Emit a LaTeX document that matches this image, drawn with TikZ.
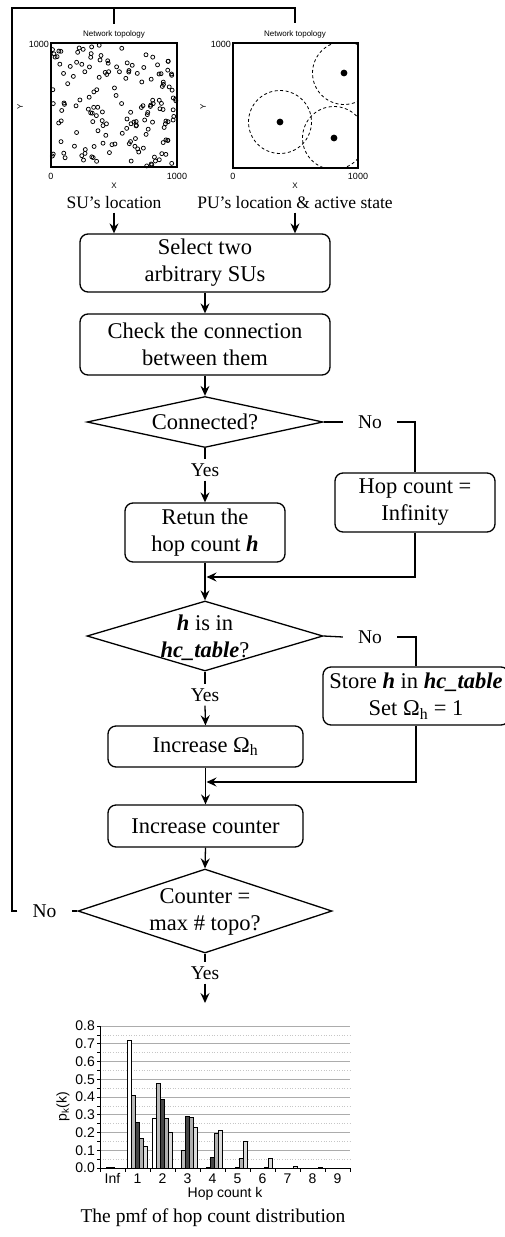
\documentclass[tikz,border=0pt]{standalone}
\usepackage{fontspec}
\setmainfont{Liberation Serif}
\setsansfont{Liberation Sans}
\usetikzlibrary{shapes.geometric,arrows.meta}
\newcommand\BoxFnt{\fontsize{22.5}{27}\selectfont}
\newcommand\YnFnt{\fontsize{19.5}{23}\selectfont}
\newcommand\LocFnt{\fontsize{17.5}{21}\selectfont}
\newcommand\CapFnt{\fontsize{19.5}{23}\selectfont}
\newcommand\TinyFnt{\sffamily\fontsize{8}{9.6}\selectfont}
\newcommand\TickFnt{\sffamily\fontsize{9}{10}\selectfont}
\newcommand\ChartFnt{\sffamily\fontsize{14}{16}\selectfont}
\newcommand\hB{\textbf{\textit{h}}}
\newcommand\hcT{\textbf{\textit{hc\_table}}}
\colorlet{sA}{white}
\colorlet{sB}{gray!55}
\colorlet{sC}{black!72}
\colorlet{sD}{gray!62}
\colorlet{sE}{gray!28}
\begin{document}
\begin{tikzpicture}[x=1pt,y=-1pt,
  ln/.style={line width=1.3pt},
  arr/.style={ln,-{Stealth[length=10pt,width=9pt,inset=3.5pt]}},
  box/.style={draw,ln,rounded corners=8pt,align=center,font=\BoxFnt,inner sep=0pt},
  dia/.style={draw,ln,diamond,inner sep=0pt},
  dtext/.style={font=\BoxFnt,align=center,inner sep=0pt},
  yn/.style={font=\YnFnt,inner xsep=15pt,inner ysep=4pt},
  plotbox/.style={draw,line width=1.2pt,inner sep=0pt},
  tiny/.style={font=\TinyFnt,inner sep=1pt},
  tick/.style={font=\TickFnt,inner sep=1pt},
  chart/.style={font=\ChartFnt,inner sep=0pt},
  bar/.style={draw=black,line width=0.6pt}]
\clip (0,0) rectangle (505,1237);
\fill[white] (0,0) rectangle (505,1237);

% ---------- top plots ----------
\node[plotbox,minimum width=126pt,minimum height=124pt] (plotA) at (114,105) {};
\node[plotbox,minimum width=125pt,minimum height=125pt] (plotB) at (295.5,105.5) {};
\node[tiny] (titA) at (114,34) {Network topology};
\node[tiny] (titB) at (295,34) {Network topology};
\node[tick,anchor=east] (ayA) at (50,44) {1000};
\node[tick] (a0A) at (51,176) {0};
\node[tick] (axA) at (177,176) {1000};
\node[tiny] (xA) at (114,186) {X};
\node[tiny,rotate=90] (yA) at (20,107) {Y};
\node[tick,anchor=east] (ayB) at (232,44) {1000};
\node[tick] (a0B) at (233,176) {0};
\node[tick] (axB) at (358,176) {1000};
\node[tiny] (xB) at (295,186) {X};
\node[tiny,rotate=90] (yB) at (203,107) {Y};

\pgfmathsetseed{4711}
\foreach \i in {1,...,160}{
  \pgfmathsetmacro\px{52+124*rnd}
  \pgfmathsetmacro\py{45+121*rnd}
  \draw[line width=0.75pt] (\px,\py) circle (2);
}
\begin{scope}
  \clip (plotB.south west) rectangle (plotB.north east);
  \foreach \cx/\cy in {344/73,280/122,334/138}{
    \draw[line width=0.8pt,dash pattern=on 3pt off 2.5pt] (\cx,\cy) circle (31.5);
    \fill (\cx,\cy) circle (3.4);
  }
\end{scope}

\node[font=\LocFnt] (su) at (114,203) {SU’s location};
\node[font=\LocFnt] (pu) at (295,203) {PU’s location \& active state};

% ---------- flowchart ----------
\node[box,minimum width=250pt,minimum height=58pt] (sel) at (205,263) {Select two\\arbitrary SUs};
\node[box,minimum width=250pt,minimum height=61pt] (chk) at (205,344.5) {Check the connection\\between them};
\node[dia,minimum width=236pt,minimum height=51pt] (d1) at (205,422) {};
\node[dtext] (d1t) at (d1) {Connected?};
\node[yn] (no1) at (370,422) {No};
\node[yn] (yes1) at (205,470) {Yes};
\node[box,minimum width=160pt,minimum height=59pt] (ret) at (205,532.5) {Retun the\\hop count \hB};
\node[box,minimum width=160pt,minimum height=59pt] (inf) at (415,502.5) {Hop count =\\Infinity};
\coordinate (j1) at (206.5,577);
\node[dia,minimum width=236pt,minimum height=70pt] (d2) at (205,636) {};
\node[dtext] (d2t) at (205,638) {\hB{} is in\\\hcT?};
\node[yn] (no2) at (370,637) {No};
\node[yn] (yes2) at (205,695) {Yes};
\node[box,minimum width=186pt,minimum height=58pt] (sto) at (416,696) {Store \hB{} in \hcT\\Set Ω\textsubscript{h} = 1};
\node[box,minimum width=195pt,minimum height=41pt] (inc) at (205.5,746.5) {Increase Ω\textsubscript{h}};
\coordinate (j2) at (206.5,782);
\node[box,minimum width=195pt,minimum height=42pt] (cnt) at (205.5,826) {Increase counter};
\node[dia,minimum width=254pt,minimum height=84pt] (d3) at (205,911) {};
\node[dtext] (d3t) at (205,912) {Counter =\\max \# topo?};
\node[yn] (no3) at (44.5,911) {No};
\node[yn] (yes3) at (205,973) {Yes};
\coordinate (chartTop) at (205,1003);
\coordinate (corner) at (12,8);
\coordinate (topA) at (114,24);
\coordinate (topB) at (295,23);

\draw[arr] (su.south) -- (su.south |- sel.north);
\draw[arr] (pu.south) -- (pu.south |- sel.north);
\draw[arr] (sel.south) -- (chk.north);
\draw[arr] (chk.south) -- (d1.north);
\draw[ln] (d1.east) -- (no1.west);
\draw[ln] (no1.east) -| (inf.north);
\draw[ln] (d1.south) -- (yes1.north);
\draw[arr] (yes1.south) -- (ret.north);
\draw[arr] (inf.south) |- (j1);
\draw[arr] (ret.south) -- (d2.north);
\draw[ln] (d2.east) -- (no2.west);
\draw[ln] (no2.east) -| (sto.north);
\draw[ln] (d2.south) -- (yes2.north);
\draw[arr] (yes2.south) -- (inc.north);
\draw[arr] (sto.south) |- (j2);
\draw[arr] (inc.south) -- (cnt.north);
\draw[arr] (cnt.south) -- (d3.north);
\draw[ln] (d3.west) -- (no3.east);
\draw[line width=1.2pt] (no3.west) -| (corner) -| (topB);
\draw[line width=1.2pt] (corner -| topA) -- (topA);
\draw[ln] (d3.south) -- (yes3.north);
\draw[arr] (yes3.south) -- (chartTop);

% ---------- chart ----------
\foreach \v in {0,...,7}{
  \draw[gray!45,line width=0.6pt,dotted] (100,{1168-17.75*(\v+0.5)}) -- (350,{1168-17.75*(\v+0.5)});
}
\foreach \v in {1,...,8}{
  \draw[gray!65,line width=0.8pt] (100,{1168-17.75*\v}) -- (350,{1168-17.75*\v});
}
\foreach \c/\s/\v/\col in {0/1/0.003/sB,0/2/0.003/sC,
  1/0/0.72/sA,1/1/0.41/sB,1/2/0.26/sC,1/3/0.17/sD,1/4/0.125/sE,
  2/0/0.28/sA,2/1/0.48/sB,2/2/0.385/sC,2/3/0.28/sD,2/4/0.20/sE,
  3/1/0.10/sB,3/2/0.29/sC,3/3/0.285/sD,3/4/0.23/sE,
  4/1/0.003/sB,4/2/0.06/sC,4/3/0.195/sD,4/4/0.215/sE,
  5/2/0.003/sC,5/3/0.055/sD,5/4/0.15/sE,
  6/3/0.005/sD,6/4/0.055/sE,
  7/4/0.01/sE,8/4/0.004/sE}{
  \draw[bar,fill=\col] ({102.5+25*\c+4*\s},1168) rectangle ++(4,{-177.5*\v});
}
\draw[line width=0.9pt] (100,1026) -- (100,1168) -- (350,1168);
\foreach \v in {0,...,16}{
  \draw[line width=0.6pt] (97,{1168-8.875*\v}) -- (100,{1168-8.875*\v});
}
\foreach \k in {0,...,10}{
  \draw[line width=0.6pt] ({100+25*\k},1168) -- ({100+25*\k},1172);
}
\foreach \v/\t in {0/0.0,1/0.1,2/0.2,3/0.3,4/0.4,5/0.5,6/0.6,7/0.7,8/0.8}{
  \node[chart,anchor=east] (yl\v) at (95,{1168-17.75*\v}) {\t};
}
\foreach \k/\t in {0/Inf,1/1,2/2,3/3,4/4,5/5,6/6,7/7,8/8,9/9}{
  \node[chart,anchor=base] (xl\k) at ({112.5+25*\k},1183) {\t};
}
\node[chart,anchor=base] (xlab) at (225,1197) {Hop count k};
\node[chart,rotate=90] (ylab) at (63,1107) {p\textsubscript{k}(k)};
\node[font=\CapFnt] (cap) at (213,1218) {The pmf of hop count distribution};
\end{tikzpicture}
\end{document}
